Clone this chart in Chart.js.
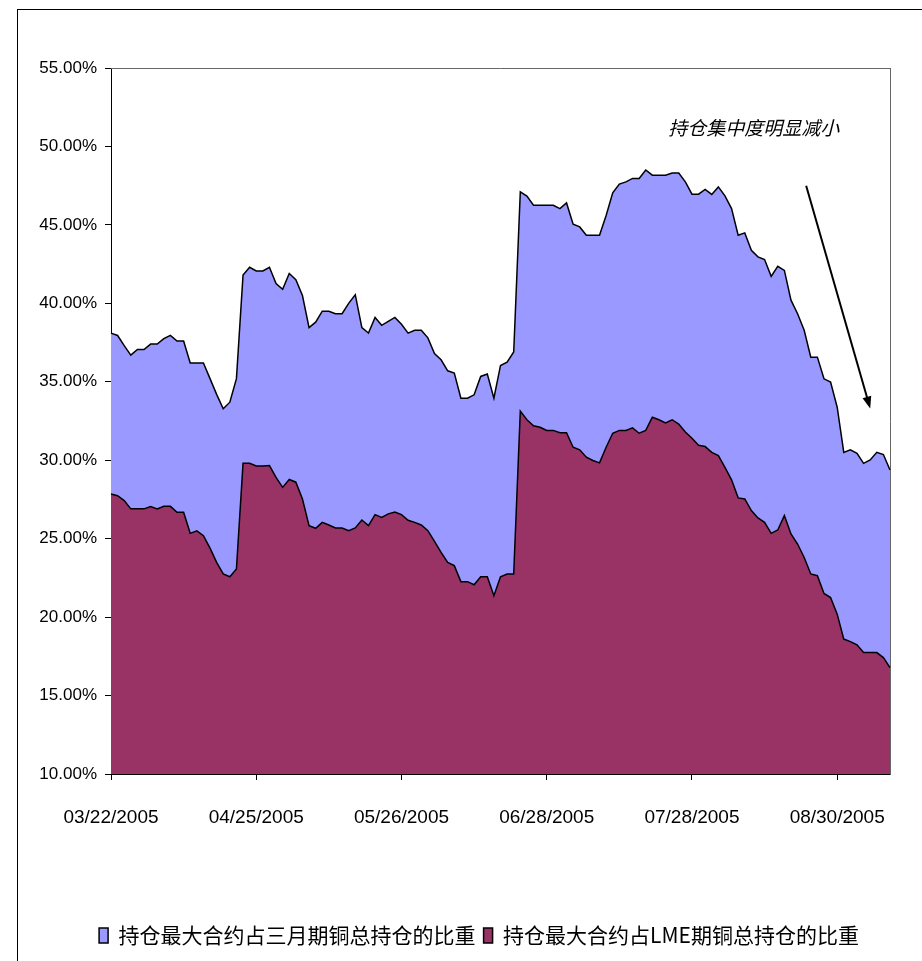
<!DOCTYPE html>
<html>
<head>
<meta charset="utf-8">
<script src="https://cdn.jsdelivr.net/npm/chart.js@4"></script>
<style>
  html, body { margin: 0; padding: 0; background: #fff; }
  #wrap { position: relative; width: 922px; height: 961px; }
  #frame { position: absolute; left: 17px; top: 9px; width: 920px; height: 970px; border: 1px solid #000; box-sizing: border-box; pointer-events: none; }
  canvas { position: absolute; left: 0; top: 0; }
</style>
</head>
<body>
<div id="wrap">
  <canvas id="copperChart" width="922" height="961"></canvas>
  <div id="frame"></div>
</div>
<script>
// trading days (LME), 03/22/2005 - 09/09/2005
const dates = [
  '03/22/2005','03/23/2005','03/24/2005','03/29/2005','03/30/2005','03/31/2005','04/01/2005',
  '04/04/2005','04/05/2005','04/06/2005','04/07/2005','04/08/2005','04/11/2005','04/12/2005',
  '04/13/2005','04/14/2005','04/15/2005','04/18/2005','04/19/2005','04/20/2005','04/21/2005',
  '04/22/2005','04/25/2005','04/26/2005','04/27/2005','04/28/2005','04/29/2005','05/03/2005',
  '05/04/2005','05/05/2005','05/06/2005','05/09/2005','05/10/2005','05/11/2005','05/12/2005',
  '05/13/2005','05/16/2005','05/17/2005','05/18/2005','05/19/2005','05/20/2005','05/23/2005',
  '05/24/2005','05/25/2005','05/26/2005','05/27/2005','05/31/2005','06/01/2005','06/02/2005',
  '06/03/2005','06/06/2005','06/07/2005','06/08/2005','06/09/2005','06/10/2005','06/13/2005',
  '06/14/2005','06/15/2005','06/16/2005','06/17/2005','06/20/2005','06/21/2005','06/22/2005',
  '06/23/2005','06/24/2005','06/27/2005','06/28/2005','06/29/2005','06/30/2005','07/01/2005',
  '07/04/2005','07/05/2005','07/06/2005','07/07/2005','07/08/2005','07/11/2005','07/12/2005',
  '07/13/2005','07/14/2005','07/15/2005','07/18/2005','07/19/2005','07/20/2005','07/21/2005',
  '07/22/2005','07/25/2005','07/26/2005','07/27/2005','07/28/2005','07/29/2005','08/01/2005',
  '08/02/2005','08/03/2005','08/04/2005','08/05/2005','08/08/2005','08/09/2005','08/10/2005',
  '08/11/2005','08/12/2005','08/15/2005','08/16/2005','08/17/2005','08/18/2005','08/19/2005',
  '08/22/2005','08/23/2005','08/24/2005','08/25/2005','08/26/2005','08/30/2005','08/31/2005',
  '09/01/2005','09/02/2005','09/05/2005','09/06/2005','09/07/2005','09/08/2005','09/09/2005'
];

// share of largest contract in 3-month copper open interest (%)
const threeMonthShare = [
  38.1, 37.95, 37.3, 36.7, 37.06, 37.06, 37.4, 37.4, 37.75, 37.96,
  37.6, 37.6, 36.2, 36.2, 36.2, 35.2, 34.2, 33.28, 33.7, 35.2,
  41.8, 42.3, 42.06, 42.06, 42.3, 41.26, 40.9, 41.9, 41.5, 40.5,
  38.45, 38.8, 39.5, 39.5, 39.34, 39.34, 40.0, 40.55, 38.45, 38.1,
  39.1, 38.6, 38.85, 39.1, 38.66, 38.1, 38.28, 38.28, 37.8, 36.8,
  36.4, 35.7, 35.55, 33.95, 33.95, 34.17, 35.34, 35.5, 33.95, 36.04,
  36.25, 36.9, 47.1, 46.83, 46.25, 46.25, 46.25, 46.25, 46.04, 46.4,
  45.04, 44.87, 44.34, 44.34, 44.34, 45.6, 47.04, 47.6, 47.74, 47.96,
  47.96, 48.5, 48.17, 48.17, 48.17, 48.3, 48.3, 47.74, 46.96, 46.96,
  47.26, 46.94, 47.42, 46.85, 46.04, 44.34, 44.49, 43.38, 42.96, 42.79,
  41.72, 42.36, 42.1, 40.2, 39.34, 38.28, 36.57, 36.57, 35.19, 34.98,
  33.38, 30.5, 30.66, 30.44, 29.8, 30.02, 30.5, 30.36, 29.38
];

// share of largest contract in total LME copper open interest (%)
const lmeShare = [
  27.85, 27.74, 27.43, 26.9, 26.9, 26.9, 27.04, 26.9, 27.06, 27.06,
  26.68, 26.68, 25.34, 25.5, 25.19, 24.4, 23.49, 22.75, 22.57, 23.07,
  29.8, 29.8, 29.63, 29.63, 29.66, 28.9, 28.27, 28.77, 28.6, 27.53,
  25.83, 25.66, 26.04, 25.87, 25.68, 25.68, 25.51, 25.68, 26.19, 25.83,
  26.53, 26.36, 26.58, 26.7, 26.53, 26.17, 26.04, 25.87, 25.51, 24.83,
  24.13, 23.49, 23.28, 22.26, 22.26, 22.06, 22.57, 22.57, 21.36, 22.57,
  22.75, 22.75, 33.13, 32.58, 32.2, 32.1, 31.9, 31.9, 31.75, 31.75,
  30.83, 30.66, 30.19, 29.98, 29.83, 30.83, 31.72, 31.9, 31.9, 32.06,
  31.72, 31.9, 32.74, 32.58, 32.38, 32.58, 32.3, 31.8, 31.4, 30.95,
  30.87, 30.5, 30.3, 29.55, 28.75, 27.6, 27.53, 26.79, 26.32, 26.04,
  25.34, 25.55, 26.47, 25.3, 24.66, 23.8, 22.75, 22.64, 21.51, 21.25,
  20.19, 18.6, 18.44, 18.23, 17.74, 17.74, 17.74, 17.42, 16.78
];

const seriesNames = ['持仓最大合约占三月期铜总持仓的比重', '持仓最大合约占LME期铜总持仓的比重'];
const labelEvery = 22;

// annotation: text anchor and arrow, in data units (category index, percent)
const noteText = '持仓集中度明显减小';
const noteAt = [84.4, 51.2];
const arrowFrom = [105.3, 47.5];
const arrowTo = [115.0, 33.3];

const notePlugin = {
  id: 'note',
  afterDatasetsDraw(chart) {
    const { ctx, chartArea, scales: { x, y } } = chart;
    ctx.save();
    // top border of plot area
    ctx.strokeStyle = '#666';
    ctx.lineWidth = 1;
    ctx.beginPath();
    ctx.moveTo(chartArea.left, chartArea.top + 0.5);
    ctx.lineTo(chartArea.right, chartArea.top + 0.5);
    ctx.stroke();

    ctx.fillStyle = '#000';
    ctx.font = 'italic 19px "Noto Sans CJK SC"';
    ctx.textBaseline = 'middle';
    ctx.fillText(noteText, x.getPixelForValue(noteAt[0]), y.getPixelForValue(noteAt[1]));

    const x1 = x.getPixelForValue(arrowFrom[0]), y1 = y.getPixelForValue(arrowFrom[1]);
    const x2 = x.getPixelForValue(arrowTo[0]), y2 = y.getPixelForValue(arrowTo[1]);
    const ang = Math.atan2(y2 - y1, x2 - x1);
    ctx.strokeStyle = '#000';
    ctx.lineWidth = 2;
    ctx.beginPath();
    ctx.moveTo(x1, y1);
    ctx.lineTo(x2 - 8 * Math.cos(ang), y2 - 8 * Math.sin(ang));
    ctx.stroke();
    ctx.beginPath();
    ctx.moveTo(x2, y2);
    ctx.lineTo(x2 - 12 * Math.cos(ang) + 4.5 * Math.sin(ang), y2 - 12 * Math.sin(ang) - 4.5 * Math.cos(ang));
    ctx.lineTo(x2 - 12 * Math.cos(ang) - 4.5 * Math.sin(ang), y2 - 12 * Math.sin(ang) + 4.5 * Math.cos(ang));
    ctx.closePath();
    ctx.fill();
    ctx.restore();
  }
};

const ctx = document.getElementById('copperChart').getContext('2d');
new Chart(ctx, {
  type: 'line',
  data: {
    labels: dates,
    datasets: [{
      label: seriesNames[0],
      data: threeMonthShare,
      backgroundColor: '#9999FF',
      borderColor: '#000',
      borderWidth: 1.5,
      fill: 'start',
      pointRadius: 0,
      tension: 0,
      order: 2
    }, {
      label: seriesNames[1],
      data: lmeShare,
      backgroundColor: '#993366',
      borderColor: '#000',
      borderWidth: 1.5,
      fill: 'start',
      pointRadius: 0,
      tension: 0,
      order: 1
    }]
  },
  options: {
    responsive: false,
    animation: false,
    layout: { padding: { left: 36, right: 0, top: 68, bottom: 5 } },
    plugins: {
      tooltip: { enabled: false },
      legend: {
        position: 'bottom',
        labels: {
          sort: (a, b) => a.datasetIndex - b.datasetIndex,
          boxWidth: 9,
          boxHeight: 15,
          padding: 8,
          color: '#000',
          font: { family: '"Noto Sans CJK SC"', size: 21 }
        }
      }
    },
    scales: {
      x: {
        offset: false,
        afterFit(scale) { scale.height = 143; },
        grid: {
          drawOnChartArea: false,
          tickLength: 6,
          color: c => (c.index % labelEvery === 0 ? '#000' : 'rgba(0,0,0,0)')
        },
        border: { display: true, color: '#000', width: 1 },
        ticks: {
          autoSkip: false,
          maxRotation: 0,
          padding: 26,
          color: '#000',
          font: { family: '"Liberation Sans"', size: 19 },
          callback: (v, i) => (i % labelEvery === 0 ? dates[i] : '')
        }
      },
      y: {
        min: 10,
        max: 55,
        afterFit(scale) { scale.width = 75; },
        grid: { drawOnChartArea: false, tickLength: 6, color: '#000' },
        border: { display: true, color: '#000', width: 1 },
        ticks: {
          stepSize: 5,
          padding: 8,
          color: '#000',
          font: { family: '"Liberation Sans"', size: 17 },
          callback: v => v.toFixed(2) + '%'
        }
      },
      y2: {
        position: 'right',
        min: 10,
        max: 55,
        afterFit(scale) { scale.width = 32; },
        grid: { display: false },
        border: { display: true, color: '#666', width: 1 },
        ticks: { display: false }
      }
    }
  },
  plugins: [notePlugin]
});
</script>
</body>
</html>
